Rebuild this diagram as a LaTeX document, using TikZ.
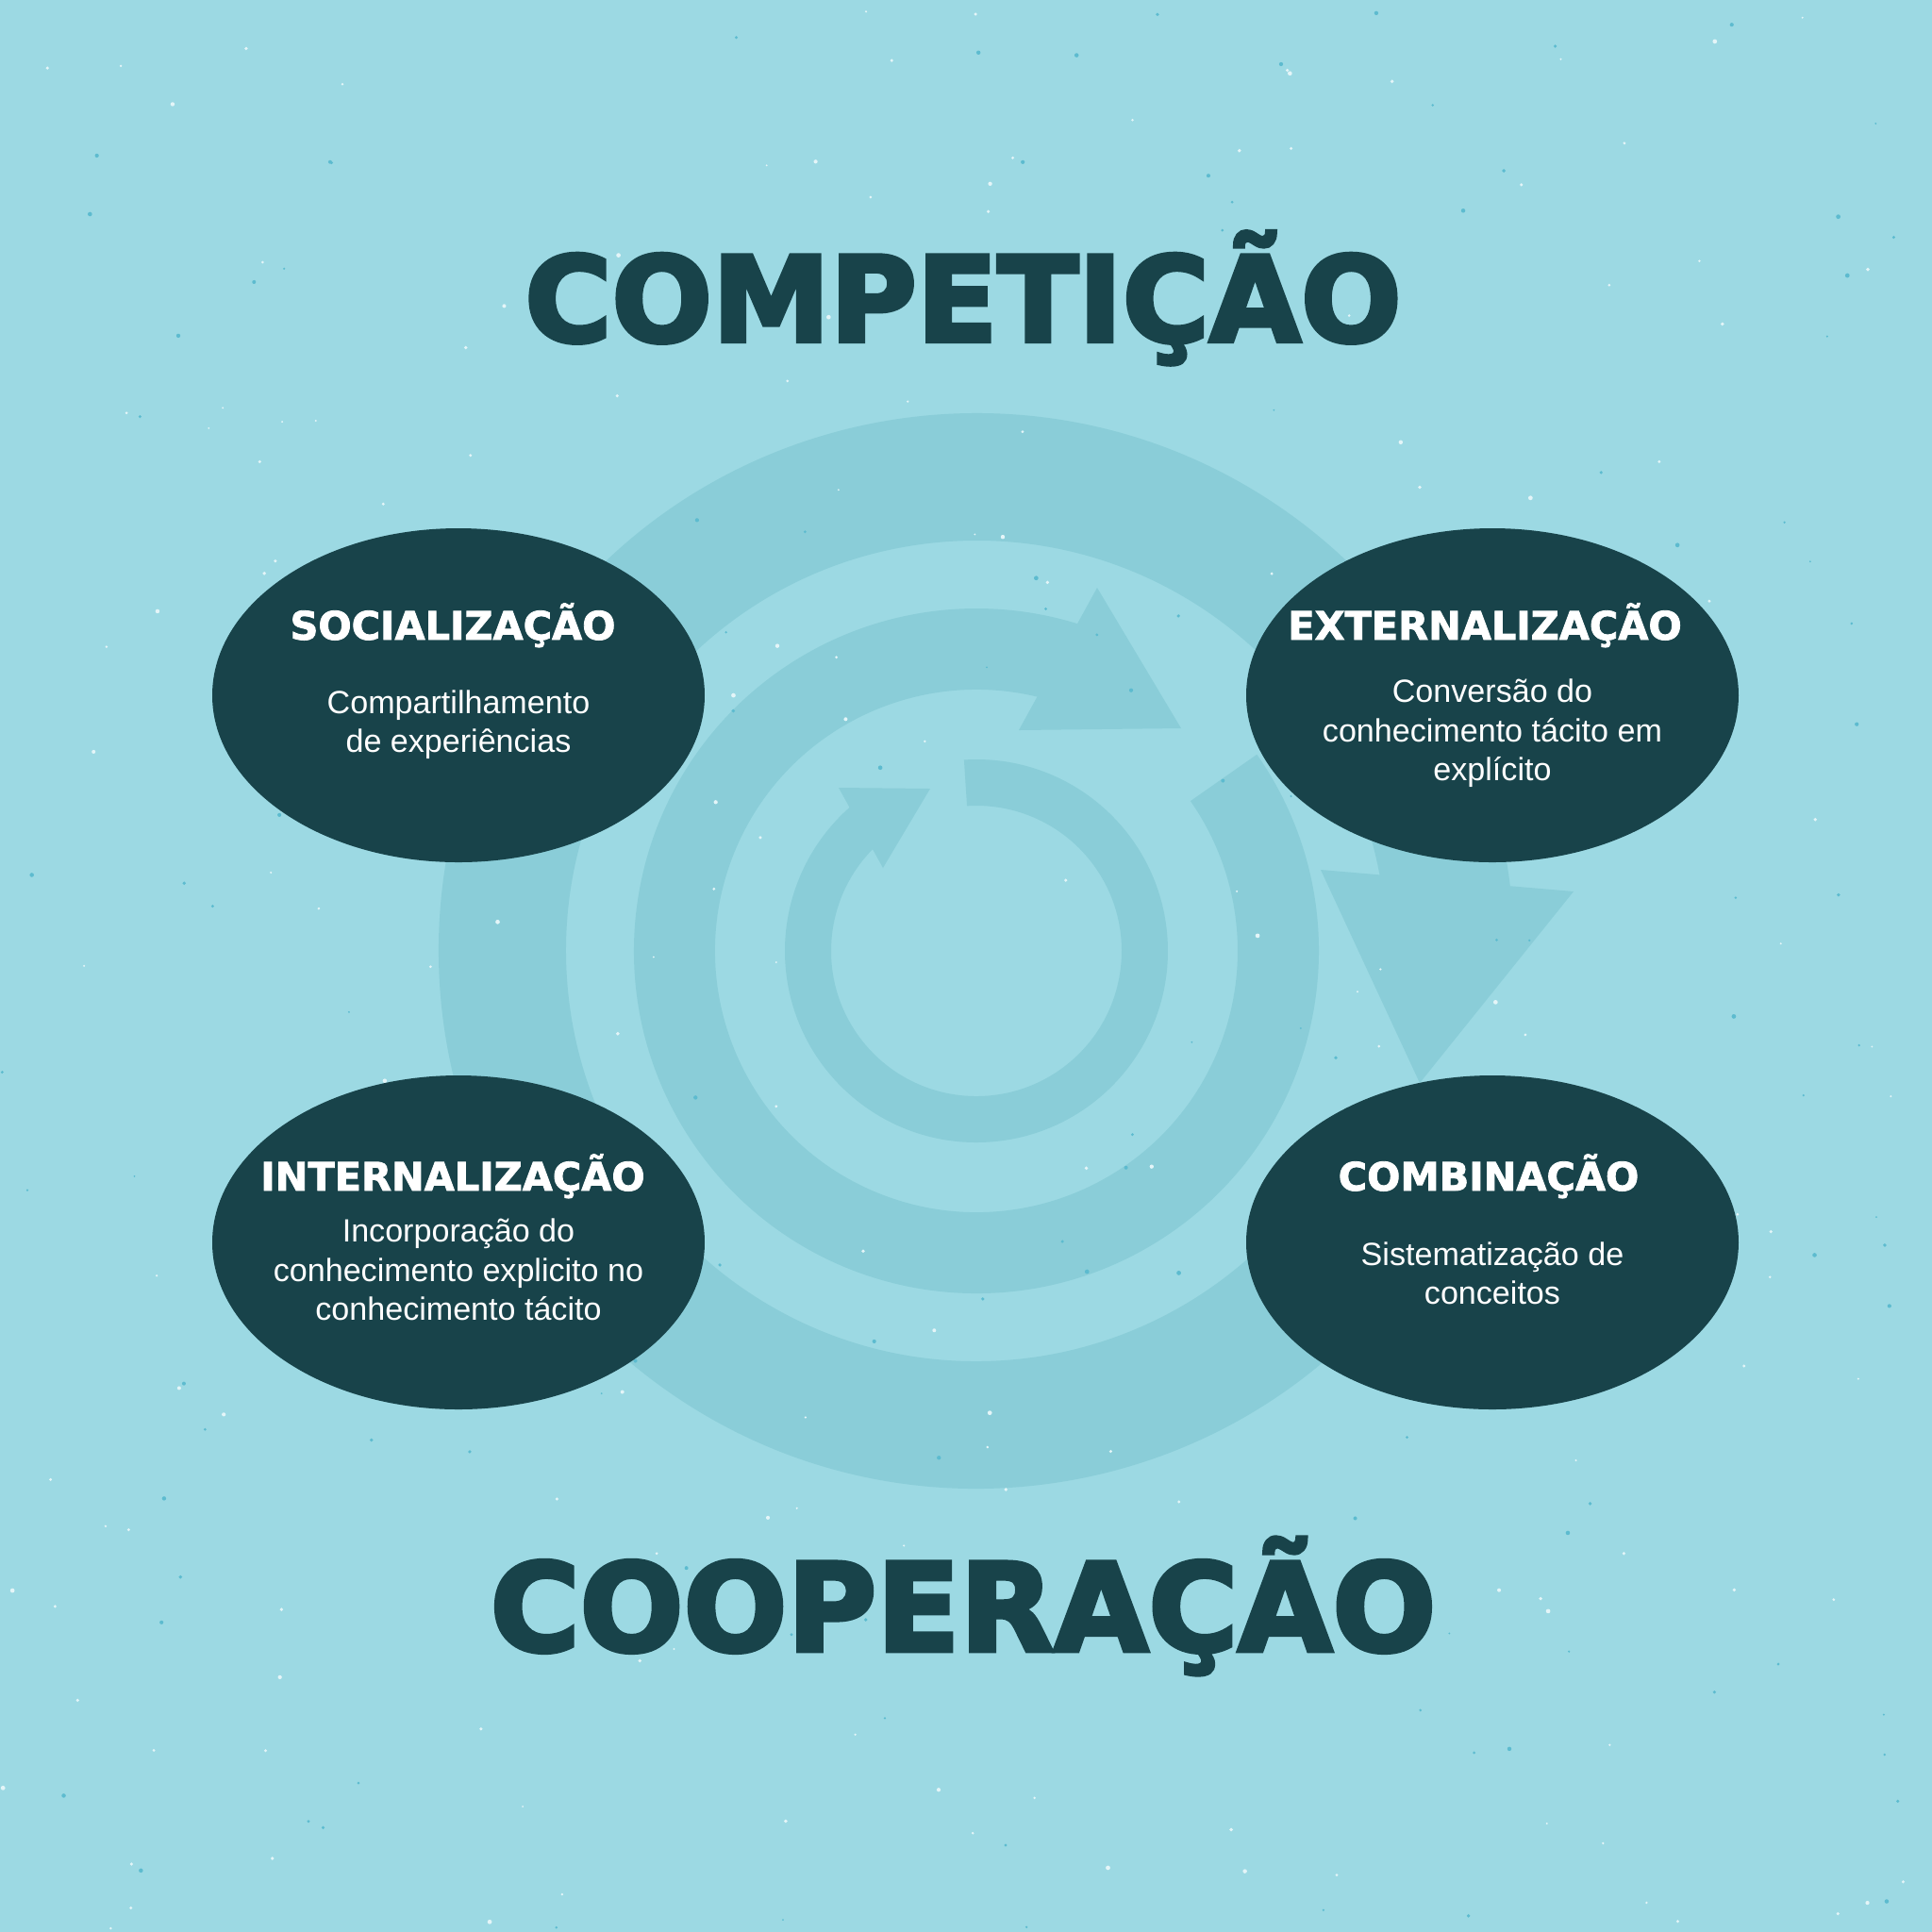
\documentclass[tikz,border=0pt]{standalone}
\usepackage{fontspec}
\setmainfont{Liberation Sans}
\newfontfamily\heavyfont{DejaVu Sans}[BoldFeatures={FakeBold=2}]
\newfontfamily\titlefont{DejaVu Sans}[BoldFeatures={FakeBold=3.5}]
\usetikzlibrary{shapes.geometric, calc}

\definecolor{bgblue}{HTML}{9CD9E3}
\definecolor{ringblue}{HTML}{8ACDD8}
\definecolor{darkteal}{HTML}{18434A}
\definecolor{speckwhite}{HTML}{E4F5F8}
\definecolor{speckblue}{HTML}{5DBBCF}

\begin{document}
\begin{tikzpicture}
        [blob/.style={
             ellipse,
             fill=darkteal,
             minimum width=5.22cm,
             minimum height=3.54cm,
             inner sep=0pt
         },
         head/.style={
             text=white,
             font=\heavyfont\bfseries\fontsize{11.8}{14}\selectfont,
             anchor=base,
             inner sep=0pt
         },
         body/.style={
             text=white,
             font=\fontsize{9.7}{11.67}\selectfont,
             align=center,
             anchor=base,
             inner sep=0pt
         },
         bigtitle/.style={
             text=darkteal,
             anchor=base,
             inner sep=0pt
         },
         ring/.style={fill=ringblue}
         ]
        % background
        \fill[bgblue] (0,0) rectangle (20.48,-20.48);
        \useasboundingbox (0,0) rectangle (20.48,-20.48);

        % cycle arrows
        \coordinate (c) at (10.35,-10.08);
        \fill[ring] ($(c)+(-35:5.70)$) arc[start angle=-35, end angle=-355, radius=5.70]
            -- ($(c)+(5:4.35)$) arc[start angle=5, end angle=325, radius=4.35] -- cycle;
        \fill[ring] (14.00,-9.22) -- (16.68,-9.45) -- (15.05,-11.48) -- cycle;
        \fill[ring] ($(c)+(35:3.63)$) arc[start angle=35, end angle=-290, radius=3.63]
            -- ($(c)+(-290:2.77)$) arc[start angle=-290, end angle=35, radius=2.77] -- cycle;
        \fill[ring] (11.63,-6.23) -- (12.52,-7.72) -- (10.80,-7.74) -- cycle;
        \fill[ring] ($(c)+(93.7:2.03)$) arc[start angle=93.7, end angle=-230, radius=2.03]
            -- ($(c)+(-230:1.54)$) arc[start angle=-230, end angle=93.7, radius=1.54] -- cycle;
        \fill[ring] (8.89,-8.35) -- (9.86,-8.36) -- (9.36,-9.20) -- cycle;

        % speckles
        \pgfmathsetseed{42}
        \foreach \k in {1,...,190} {
            \fill[speckwhite] ({20.48*rnd},{-20.48*rnd}) circle ({0.010+0.014*rnd});
        }
        \foreach \k in {1,...,140} {
            \fill[speckblue] ({20.48*rnd},{-20.48*rnd}) circle ({0.010+0.014*rnd});
        }

        % titles
        \node[bigtitle, font=\titlefont\bfseries\fontsize{35.7}{40}\selectfont]
            (top) at (10.21,-3.62) {COMPETIÇÃO};
        \node[bigtitle, font=\titlefont\bfseries\fontsize{36.8}{40}\selectfont]
            (bottom) at (10.21,-17.50) {COOPERAÇÃO};

        % the four modes
        \node[blob] (soc) at (4.86,-7.37) {};
        \node[blob] (ext) at (15.82,-7.37) {};
        \node[blob] (int) at (4.86,-13.17) {};
        \node[blob] (comb) at (15.82,-13.17) {};

        \node[head] (soc-h) at (4.80,-6.78) {SOCIALIZAÇÃO};
        \node[head] (ext-h) at (15.74,-6.78) {EXTERNALIZAÇÃO};
        \node[head] (int-h) at (4.80,-12.62) {INTERNALIZAÇÃO};
        \node[head] (comb-h) at (15.78,-12.62) {COMBINAÇÃO};

        % base anchor sits on the last line
        \node[body] (soc-b) at (4.86,-7.97) {Compartilhamento\\de experiências};
        \node[body] (ext-b) at (15.82,-8.27) {Conversão do\\conhecimento tácito em\\explícito};
        \node[body] (int-b) at (4.86,-13.99) {Incorporação do\\conhecimento explicito no\\conhecimento tácito};
        \node[body] (comb-b) at (15.82,-13.82) {Sistematização de\\conceitos};
\end{tikzpicture}
\end{document}
